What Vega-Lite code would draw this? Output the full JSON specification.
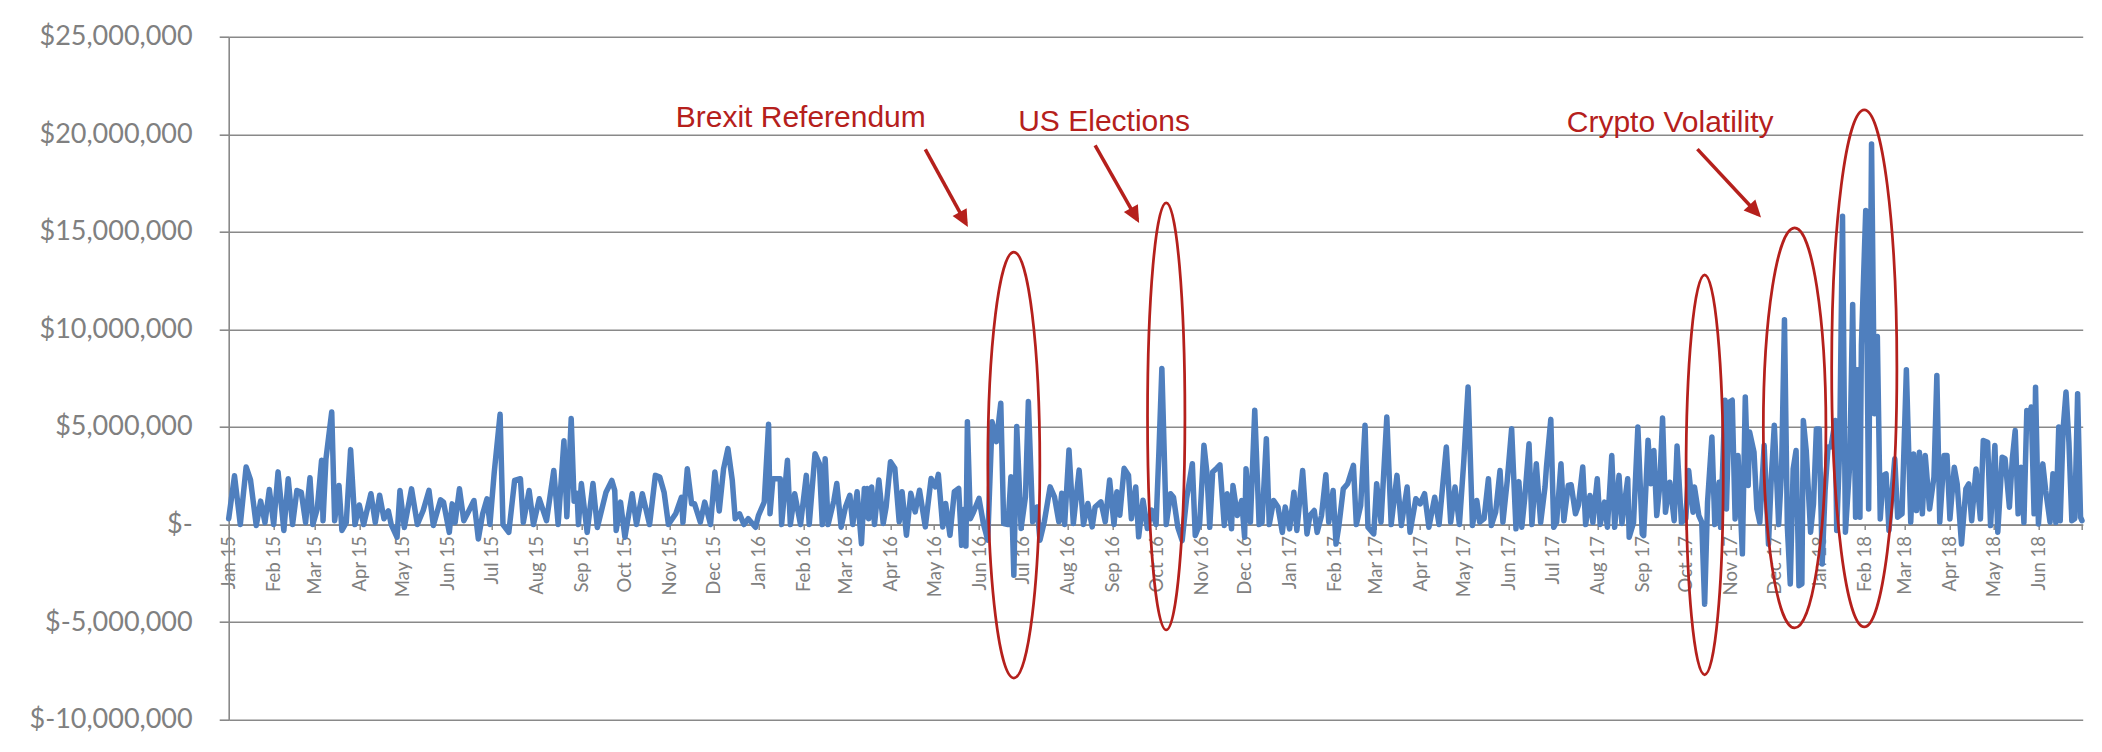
{
  "$schema": "https://vega.github.io/schema/vega-lite/v6.json",
  "width": 1854,
  "height": 683,
  "autosize": "none",
  "padding": {"left": 228.7, "top": 36.7, "right": 19.3, "bottom": 32.3},
  "background": "white",
  "config": {"view": {"stroke": null}},
  "datasets": {
    "flows": [
      {"d":"2015-01-01","v":300000},{"d":"2015-01-05","v":2500000},{"d":"2015-01-09","v":0},{"d":"2015-01-13","v":2950000},
      {"d":"2015-01-16","v":2300000},{"d":"2015-01-20","v":-50000},{"d":"2015-01-23","v":1200000},{"d":"2015-01-26","v":100000},
      {"d":"2015-01-29","v":1800000},{"d":"2015-02-01","v":0},{"d":"2015-02-04","v":2700000},{"d":"2015-02-08","v":-300000},
      {"d":"2015-02-11","v":2350000},{"d":"2015-02-14","v":0},{"d":"2015-02-17","v":1750000},{"d":"2015-02-20","v":1650000},
      {"d":"2015-02-23","v":100000},{"d":"2015-02-26","v":2400000},{"d":"2015-02-28","v":0},{"d":"2015-03-03","v":800000},
      {"d":"2015-03-06","v":3300000},{"d":"2015-03-07","v":200000},{"d":"2015-03-09","v":3350000},{"d":"2015-03-13","v":5770000},
      {"d":"2015-03-15","v":200000},{"d":"2015-03-18","v":2000000},{"d":"2015-03-20","v":-300000},{"d":"2015-03-23","v":100000},
      {"d":"2015-03-26","v":3840000},{"d":"2015-03-29","v":0},{"d":"2015-04-01","v":1000000},{"d":"2015-04-04","v":0},
      {"d":"2015-04-09","v":1580000},{"d":"2015-04-12","v":100000},{"d":"2015-04-15","v":1500000},{"d":"2015-04-18","v":300000},
      {"d":"2015-04-21","v":700000},{"d":"2015-04-23","v":0},{"d":"2015-04-27","v":-650000},{"d":"2015-04-29","v":1750000},
      {"d":"2015-05-02","v":-150000},{"d":"2015-05-07","v":1830000},{"d":"2015-05-11","v":0},{"d":"2015-05-15","v":720000},
      {"d":"2015-05-19","v":1750000},{"d":"2015-05-22","v":-50000},{"d":"2015-05-27","v":1270000},{"d":"2015-05-29","v":1150000},
      {"d":"2015-06-02","v":-400000},{"d":"2015-06-04","v":1060000},{"d":"2015-06-06","v":100000},{"d":"2015-06-09","v":1830000},
      {"d":"2015-06-12","v":200000},{"d":"2015-06-15","v":630000},{"d":"2015-06-19","v":1230000},{"d":"2015-06-22","v":-740000},
      {"d":"2015-06-25","v":550000},{"d":"2015-06-28","v":1320000},{"d":"2015-06-30","v":0},{"d":"2015-07-03","v":2700000},
      {"d":"2015-07-07","v":5650000},{"d":"2015-07-09","v":0},{"d":"2015-07-13","v":-400000},{"d":"2015-07-17","v":2260000},
      {"d":"2015-07-21","v":2350000},{"d":"2015-07-23","v":100000},{"d":"2015-07-27","v":1750000},{"d":"2015-07-30","v":0},
      {"d":"2015-08-03","v":1320000},{"d":"2015-08-06","v":650000},{"d":"2015-08-08","v":200000},{"d":"2015-08-13","v":2770000},
      {"d":"2015-08-16","v":0},{"d":"2015-08-20","v":4300000},{"d":"2015-08-22","v":400000},{"d":"2015-08-25","v":5430000},
      {"d":"2015-08-27","v":1200000},{"d":"2015-08-29","v":1600000},{"d":"2015-08-30","v":0},{"d":"2015-09-01","v":2100000},
      {"d":"2015-09-05","v":-400000},{"d":"2015-09-09","v":2100000},{"d":"2015-09-12","v":-150000},{"d":"2015-09-18","v":1660000},
      {"d":"2015-09-22","v":2260000},{"d":"2015-09-24","v":1750000},{"d":"2015-09-25","v":-300000},{"d":"2015-09-28","v":1150000},
      {"d":"2015-10-01","v":-650000},{"d":"2015-10-06","v":1580000},{"d":"2015-10-09","v":0},{"d":"2015-10-13","v":1580000},
      {"d":"2015-10-18","v":0},{"d":"2015-10-22","v":2520000},{"d":"2015-10-25","v":2430000},{"d":"2015-10-28","v":1660000},
      {"d":"2015-10-31","v":0},{"d":"2015-11-05","v":550000},{"d":"2015-11-09","v":1400000},{"d":"2015-11-10","v":100000},
      {"d":"2015-11-13","v":2860000},{"d":"2015-11-16","v":1060000},{"d":"2015-11-18","v":1060000},{"d":"2015-11-22","v":120000},
      {"d":"2015-11-25","v":1150000},{"d":"2015-11-29","v":0},{"d":"2015-12-02","v":2690000},{"d":"2015-12-05","v":700000},
      {"d":"2015-12-08","v":2860000},{"d":"2015-12-11","v":3890000},{"d":"2015-12-14","v":2260000},{"d":"2015-12-16","v":300000},
      {"d":"2015-12-19","v":550000},{"d":"2015-12-22","v":0},{"d":"2015-12-25","v":300000},{"d":"2015-12-30","v":-140000},
      {"d":"2016-01-01","v":460000},{"d":"2016-01-05","v":1150000},{"d":"2016-01-08","v":5140000},{"d":"2016-01-09","v":550000},
      {"d":"2016-01-11","v":2350000},{"d":"2016-01-16","v":2350000},{"d":"2016-01-17","v":0},{"d":"2016-01-21","v":3290000},
      {"d":"2016-01-23","v":0},{"d":"2016-01-26","v":1580000},{"d":"2016-01-30","v":0},{"d":"2016-02-03","v":2520000},
      {"d":"2016-02-05","v":0},{"d":"2016-02-09","v":3630000},{"d":"2016-02-12","v":3120000},{"d":"2016-02-14","v":0},
      {"d":"2016-02-16","v":3370000},{"d":"2016-02-18","v":0},{"d":"2016-02-22","v":1230000},{"d":"2016-02-24","v":2100000},
      {"d":"2016-02-27","v":-140000},{"d":"2016-03-01","v":900000},{"d":"2016-03-04","v":1500000},{"d":"2016-03-06","v":0},
      {"d":"2016-03-09","v":1680000},{"d":"2016-03-12","v":-980000},{"d":"2016-03-14","v":1850000},{"d":"2016-03-15","v":400000},
      {"d":"2016-03-16","v":1850000},{"d":"2016-03-17","v":300000},{"d":"2016-03-19","v":1930000},{"d":"2016-03-21","v":0},
      {"d":"2016-03-24","v":2280000},{"d":"2016-03-27","v":50000},{"d":"2016-03-29","v":900000},{"d":"2016-04-01","v":3220000},
      {"d":"2016-04-04","v":2880000},{"d":"2016-04-07","v":140000},{"d":"2016-04-09","v":1680000},{"d":"2016-04-12","v":-550000},
      {"d":"2016-04-15","v":1600000},{"d":"2016-04-18","v":650000},{"d":"2016-04-21","v":1760000},{"d":"2016-04-25","v":-120000},
      {"d":"2016-04-29","v":2360000},{"d":"2016-05-02","v":1930000},{"d":"2016-05-04","v":2570000},{"d":"2016-05-07","v":-120000},
      {"d":"2016-05-09","v":1080000},{"d":"2016-05-12","v":-550000},{"d":"2016-05-15","v":1680000},{"d":"2016-05-18","v":1850000},
      {"d":"2016-05-20","v":-1060000},{"d":"2016-05-22","v":800000},{"d":"2016-05-23","v":-1100000},{"d":"2016-05-24","v":5270000},
      {"d":"2016-05-26","v":300000},{"d":"2016-05-28","v":600000},{"d":"2016-06-01","v":1340000},{"d":"2016-06-04","v":50000},
      {"d":"2016-06-07","v":-800000},{"d":"2016-06-10","v":5270000},{"d":"2016-06-13","v":4250000},{"d":"2016-06-16","v":6220000},
      {"d":"2016-06-18","v":50000},{"d":"2016-06-21","v":0},{"d":"2016-06-23","v":2450000},{"d":"2016-06-25","v":-2600000},
      {"d":"2016-06-27","v":5020000},{"d":"2016-06-30","v":-200000},{"d":"2016-07-03","v":1420000},{"d":"2016-07-05","v":6300000},
      {"d":"2016-07-08","v":140000},{"d":"2016-07-11","v":900000},{"d":"2016-07-13","v":-800000},{"d":"2016-07-16","v":140000},
      {"d":"2016-07-20","v":1930000},{"d":"2016-07-23","v":1420000},{"d":"2016-07-26","v":140000},{"d":"2016-07-28","v":1600000},
      {"d":"2016-07-30","v":0},{"d":"2016-08-02","v":3820000},{"d":"2016-08-05","v":50000},{"d":"2016-08-09","v":2790000},
      {"d":"2016-08-12","v":0},{"d":"2016-08-15","v":1080000},{"d":"2016-08-18","v":-120000},{"d":"2016-08-20","v":900000},
      {"d":"2016-08-24","v":1160000},{"d":"2016-08-27","v":140000},{"d":"2016-08-30","v":2280000},{"d":"2016-09-02","v":0},
      {"d":"2016-09-04","v":1680000},{"d":"2016-09-06","v":480000},{"d":"2016-09-09","v":2880000},{"d":"2016-09-12","v":2530000},
      {"d":"2016-09-14","v":300000},{"d":"2016-09-17","v":1930000},{"d":"2016-09-19","v":-630000},{"d":"2016-09-22","v":1250000},
      {"d":"2016-09-25","v":-200000},{"d":"2016-09-28","v":740000},{"d":"2016-10-01","v":0},{"d":"2016-10-03","v":3800000},
      {"d":"2016-10-05","v":8000000},{"d":"2016-10-08","v":0},{"d":"2016-10-11","v":1580000},{"d":"2016-10-13","v":1400000},
      {"d":"2016-10-16","v":-140000},{"d":"2016-10-19","v":-820000},{"d":"2016-10-22","v":1320000},{"d":"2016-10-26","v":3120000},
      {"d":"2016-10-28","v":-560000},{"d":"2016-10-31","v":0},{"d":"2016-11-03","v":4060000},{"d":"2016-11-05","v":2690000},
      {"d":"2016-11-07","v":-140000},{"d":"2016-11-09","v":2690000},{"d":"2016-11-12","v":2900000},{"d":"2016-11-14","v":3060000},
      {"d":"2016-11-17","v":-50000},{"d":"2016-11-19","v":1580000},{"d":"2016-11-22","v":-220000},{"d":"2016-11-23","v":2000000},
      {"d":"2016-11-26","v":460000},{"d":"2016-11-29","v":1230000},{"d":"2016-12-01","v":-650000},{"d":"2016-12-02","v":2860000},
      {"d":"2016-12-05","v":120000},{"d":"2016-12-08","v":5860000},{"d":"2016-12-11","v":0},{"d":"2016-12-13","v":100000},
      {"d":"2016-12-16","v":4400000},{"d":"2016-12-18","v":0},{"d":"2016-12-21","v":1230000},{"d":"2016-12-24","v":900000},
      {"d":"2016-12-27","v":-400000},{"d":"2016-12-29","v":900000},{"d":"2017-01-01","v":-220000},{"d":"2017-01-04","v":1660000},
      {"d":"2017-01-06","v":-300000},{"d":"2017-01-10","v":2770000},{"d":"2017-01-13","v":-480000},{"d":"2017-01-15","v":460000},
      {"d":"2017-01-18","v":720000},{"d":"2017-01-20","v":-400000},{"d":"2017-01-23","v":460000},{"d":"2017-01-26","v":2550000},
      {"d":"2017-01-28","v":120000},{"d":"2017-01-31","v":1750000},{"d":"2017-02-02","v":-1000000},{"d":"2017-02-04","v":-50000},
      {"d":"2017-02-07","v":1830000},{"d":"2017-02-10","v":2090000},{"d":"2017-02-14","v":3030000},{"d":"2017-02-16","v":0},
      {"d":"2017-02-19","v":980000},{"d":"2017-02-22","v":5090000},{"d":"2017-02-24","v":-140000},{"d":"2017-02-28","v":-480000},
      {"d":"2017-03-02","v":2090000},{"d":"2017-03-05","v":120000},{"d":"2017-03-09","v":5510000},{"d":"2017-03-12","v":0},
      {"d":"2017-03-16","v":2520000},{"d":"2017-03-19","v":-50000},{"d":"2017-03-23","v":1920000},{"d":"2017-03-25","v":-400000},
      {"d":"2017-03-29","v":1320000},{"d":"2017-04-01","v":1060000},{"d":"2017-04-04","v":1580000},{"d":"2017-04-07","v":-140000},
      {"d":"2017-04-11","v":1400000},{"d":"2017-04-14","v":0},{"d":"2017-04-19","v":3970000},{"d":"2017-04-22","v":120000},
      {"d":"2017-04-25","v":1920000},{"d":"2017-04-28","v":0},{"d":"2017-05-01","v":3200000},{"d":"2017-05-04","v":7050000},
      {"d":"2017-05-07","v":-50000},{"d":"2017-05-10","v":1230000},{"d":"2017-05-12","v":120000},{"d":"2017-05-15","v":300000},
      {"d":"2017-05-18","v":2350000},{"d":"2017-05-20","v":-50000},{"d":"2017-05-23","v":630000},{"d":"2017-05-26","v":2770000},
      {"d":"2017-05-28","v":120000},{"d":"2017-05-31","v":2260000},{"d":"2017-06-03","v":4910000},{"d":"2017-06-06","v":-220000},
      {"d":"2017-06-08","v":2200000},{"d":"2017-06-10","v":-140000},{"d":"2017-06-12","v":1320000},{"d":"2017-06-15","v":4140000},
      {"d":"2017-06-17","v":0},{"d":"2017-06-20","v":3120000},{"d":"2017-06-23","v":100000},{"d":"2017-06-26","v":1920000},
      {"d":"2017-06-27","v":2950000},{"d":"2017-06-30","v":5390000},{"d":"2017-07-02","v":-140000},{"d":"2017-07-04","v":120000},
      {"d":"2017-07-07","v":3120000},{"d":"2017-07-09","v":200000},{"d":"2017-07-12","v":2000000},{"d":"2017-07-14","v":2040000},
      {"d":"2017-07-17","v":550000},{"d":"2017-07-19","v":980000},{"d":"2017-07-22","v":2950000},{"d":"2017-07-24","v":0},
      {"d":"2017-07-27","v":1490000},{"d":"2017-07-29","v":100000},{"d":"2017-08-01","v":2350000},{"d":"2017-08-03","v":0},
      {"d":"2017-08-06","v":1150000},{"d":"2017-08-08","v":-140000},{"d":"2017-08-11","v":3540000},{"d":"2017-08-13","v":-140000},
      {"d":"2017-08-16","v":2520000},{"d":"2017-08-18","v":50000},{"d":"2017-08-22","v":2350000},{"d":"2017-08-23","v":-650000},
      {"d":"2017-08-26","v":100000},{"d":"2017-08-29","v":5000000},{"d":"2017-09-01","v":-480000},{"d":"2017-09-02","v":-570000},
      {"d":"2017-09-05","v":4320000},{"d":"2017-09-07","v":2090000},{"d":"2017-09-09","v":3800000},{"d":"2017-09-11","v":460000},
      {"d":"2017-09-13","v":1920000},{"d":"2017-09-15","v":5460000},{"d":"2017-09-17","v":630000},{"d":"2017-09-20","v":2170000},
      {"d":"2017-09-23","v":200000},{"d":"2017-09-25","v":4020000},{"d":"2017-09-28","v":100000},{"d":"2017-10-01","v":300000},
      {"d":"2017-10-03","v":2770000},{"d":"2017-10-06","v":630000},{"d":"2017-10-07","v":1920000},{"d":"2017-10-10","v":460000},
      {"d":"2017-10-12","v":120000},{"d":"2017-10-14","v":-4080000},{"d":"2017-10-16","v":1150000},{"d":"2017-10-19","v":4490000},
      {"d":"2017-10-21","v":0},{"d":"2017-10-24","v":2170000},{"d":"2017-10-25","v":-140000},{"d":"2017-10-28","v":6370000},
      {"d":"2017-10-29","v":800000},{"d":"2017-10-31","v":6280000},{"d":"2017-11-02","v":6370000},{"d":"2017-11-04","v":290000},
      {"d":"2017-11-06","v":3540000},{"d":"2017-11-09","v":-1500000},{"d":"2017-11-11","v":6540000},{"d":"2017-11-13","v":2000000},
      {"d":"2017-11-14","v":4740000},{"d":"2017-11-17","v":3720000},{"d":"2017-11-19","v":800000},{"d":"2017-11-21","v":100000},
      {"d":"2017-11-24","v":4060000},{"d":"2017-11-27","v":-1000000},{"d":"2017-11-29","v":2520000},{"d":"2017-12-01","v":5090000},
      {"d":"2017-12-04","v":0},{"d":"2017-12-06","v":2770000},{"d":"2017-12-08","v":10500000},{"d":"2017-12-10","v":-140000},
      {"d":"2017-12-12","v":-3040000},{"d":"2017-12-14","v":2850000},{"d":"2017-12-16","v":3800000},{"d":"2017-12-18","v":-3130000},
      {"d":"2017-12-20","v":-3040000},{"d":"2017-12-21","v":5330000},{"d":"2017-12-23","v":3800000},{"d":"2017-12-26","v":-390000},
      {"d":"2017-12-28","v":1060000},{"d":"2017-12-30","v":4900000},{"d":"2018-01-01","v":4900000},{"d":"2018-01-03","v":-2020000},
      {"d":"2018-01-05","v":1740000},{"d":"2018-01-07","v":3970000},{"d":"2018-01-09","v":3970000},{"d":"2018-01-12","v":5330000},
      {"d":"2018-01-13","v":-300000},{"d":"2018-01-15","v":3800000},{"d":"2018-01-17","v":15800000},{"d":"2018-01-19","v":-390000},
      {"d":"2018-01-22","v":3110000},{"d":"2018-01-24","v":11280000},{"d":"2018-01-26","v":380000},{"d":"2018-01-27","v":7930000},
      {"d":"2018-01-29","v":380000},{"d":"2018-01-30","v":9180000},{"d":"2018-02-02","v":16100000},{"d":"2018-02-04","v":800000},
      {"d":"2018-02-06","v":19500000},{"d":"2018-02-08","v":5680000},{"d":"2018-02-10","v":9640000},{"d":"2018-02-12","v":290000},
      {"d":"2018-02-14","v":2510000},{"d":"2018-02-16","v":2600000},{"d":"2018-02-18","v":-300000},{"d":"2018-02-22","v":3370000},
      {"d":"2018-02-24","v":380000},{"d":"2018-02-27","v":550000},{"d":"2018-03-02","v":7930000},{"d":"2018-03-05","v":120000},
      {"d":"2018-03-07","v":3620000},{"d":"2018-03-09","v":720000},{"d":"2018-03-11","v":3710000},{"d":"2018-03-13","v":550000},
      {"d":"2018-03-15","v":3540000},{"d":"2018-03-18","v":800000},{"d":"2018-03-21","v":2430000},{"d":"2018-03-23","v":7640000},
      {"d":"2018-03-25","v":120000},{"d":"2018-03-28","v":3540000},{"d":"2018-03-30","v":3540000},{"d":"2018-04-01","v":290000},
      {"d":"2018-04-04","v":2940000},{"d":"2018-04-06","v":2090000},{"d":"2018-04-09","v":-1000000},{"d":"2018-04-12","v":1830000},
      {"d":"2018-04-14","v":2090000},{"d":"2018-04-16","v":200000},{"d":"2018-04-19","v":2850000},{"d":"2018-04-22","v":290000},
      {"d":"2018-04-24","v":4310000},{"d":"2018-04-27","v":4220000},{"d":"2018-04-29","v":-50000},{"d":"2018-05-02","v":4050000},
      {"d":"2018-05-04","v":-390000},{"d":"2018-05-07","v":3450000},{"d":"2018-05-09","v":3370000},{"d":"2018-05-12","v":890000},
      {"d":"2018-05-14","v":3370000},{"d":"2018-05-16","v":4820000},{"d":"2018-05-18","v":550000},{"d":"2018-05-20","v":2940000},
      {"d":"2018-05-22","v":100000},{"d":"2018-05-24","v":5850000},{"d":"2018-05-25","v":5000000},{"d":"2018-05-27","v":6020000},
      {"d":"2018-05-29","v":550000},{"d":"2018-05-30","v":7040000},{"d":"2018-06-01","v":30000},{"d":"2018-06-04","v":3110000},
      {"d":"2018-06-06","v":1740000},{"d":"2018-06-09","v":120000},{"d":"2018-06-11","v":2600000},{"d":"2018-06-13","v":100000},
      {"d":"2018-06-15","v":5000000},{"d":"2018-06-16","v":200000},{"d":"2018-06-18","v":4900000},{"d":"2018-06-20","v":6790000},
      {"d":"2018-06-22","v":4220000},{"d":"2018-06-24","v":200000},{"d":"2018-06-26","v":300000},{"d":"2018-06-28","v":6700000},
      {"d":"2018-06-30","v":380000},{"d":"2018-07-01","v":200000}
    ],
    "notes": [
      {"label": "Brexit Referendum", "d": "2015-11-05", "v": 20370000},
      {"label": "US Elections", "d": "2016-06-28", "v": 20180000},
      {"label": "Crypto Volatility", "d": "2017-07-11", "v": 20130000}
    ],
    "arrows": [
      {"name": "brexit", "d": "2016-04-25", "v": 19230000, "d2": "2016-05-23", "v2": 15430000},
      {"name": "us", "d": "2016-08-20", "v": 19430000, "d2": "2016-09-18", "v2": 15630000},
      {"name": "crypto", "d": "2017-10-09", "v": 19240000, "d2": "2017-11-20", "v2": 15890000}
    ],
    "rings": [
      {"name": "brexit", "d": "2016-06-25", "v": 3050000},
      {"name": "us", "d": "2016-10-08", "v": 5540000},
      {"name": "oct", "d": "2017-10-14", "v": 2550000},
      {"name": "dec", "d": "2017-12-15", "v": 4950000},
      {"name": "feb", "d": "2018-02-01", "v": 8000000}
    ]
  },
  "layer": [
    {
      "data": {"name": "flows"},
      "mark": {"type": "line", "color": "#4F7FBE", "strokeWidth": 5.5, "strokeJoin": "round", "strokeCap": "round"},
      "encoding": {
        "x": {
          "field": "d", "type": "temporal", "title": null,
          "scale": {
            "type": "utc",
            "domain": [
              {"year": 2015, "month": 1, "date": 1, "utc": true},
              {"year": 2018, "month": 7, "date": 1, "hours": 12, "utc": true}
            ]
          },
          "axis": {
            "title": null,
            "tickCount": {"interval": "month", "step": 1},
            "labelExpr": "utcyear(datum.value) == 2018 && utcmonth(datum.value) == 6 ? '' : utcFormat(datum.value, '%b %y')",
            "labelAngle": -90,
            "labelFont": "Lato",
            "labelFontSize": 18.5,
            "labelColor": "#808080",
            "labelPadding": 6,
            "labelOverlap": false,
            "labelFlush": false,
            "labelBound": false,
            "tickSize": 5,
            "tickColor": "#898989",
            "tickWidth": 1.5,
            "domainColor": "#898989",
            "domainWidth": 1.6,
            "grid": false,
            "offset": -195.14
          }
        },
        "y": {
          "field": "v", "type": "quantitative", "title": null,
          "scale": {"domain": [-10000000, 25000000], "nice": false, "zero": false},
          "axis": {
            "title": null,
            "values": [-10000000, -5000000, 0, 5000000, 10000000, 15000000, 20000000, 25000000],
            "labelExpr": "datum.value == 0 ? '$-' : (datum.value < 0 ? '$-' + format(-datum.value, ',') : '$' + format(datum.value, ','))",
            "labelFont": "Lato",
            "labelFontSize": 27,
            "labelColor": "#808080",
            "labelPadding": 27,
            "labelOverlap": false,
            "labelFlush": false,
            "labelBaseline": "middle",
            "tickSize": 9.5,
            "tickColor": "#898989",
            "tickWidth": 1.6,
            "domainColor": "#898989",
            "domainWidth": 1.6,
            "grid": true,
            "gridColor": "#898989",
            "gridWidth": 1.6
          }
        }
      }
    },
    {
      "data": {"name": "rings"},
      "mark": {"type": "point", "filled": false, "size": 4, "stroke": "#B5201C", "strokeWidth": 2.75, "opacity": 1},
      "encoding": {
        "x": {"field": "d", "type": "temporal", "title": null},
        "y": {"field": "v", "type": "quantitative", "title": null},
        "shape": {
          "field": "name", "type": "nominal", "legend": null,
          "scale": {
            "domain": ["brexit", "us", "oct", "dec", "feb"],
            "range": [
              "M0,-213A26,213 0 1 1 0,213A26,213 0 1 1 0,-213Z",
              "M0,-213.5A18.7,213.5 0 1 1 0,213.5A18.7,213.5 0 1 1 0,-213.5Z",
              "M0,-200A18.6,200 0 1 1 0,200A18.6,200 0 1 1 0,-200Z",
              "M0,-200A31.3,200 0 1 1 0,200A31.3,200 0 1 1 0,-200Z",
              "M0,-258.5A32.6,258.5 0 1 1 0,258.5A32.6,258.5 0 1 1 0,-258.5Z"
            ]
          }
        }
      }
    },
    {
      "data": {"name": "arrows"},
      "mark": {"type": "rule", "color": "#B5201C", "strokeWidth": 3.5},
      "encoding": {
        "x": {"field": "d", "type": "temporal", "title": null},
        "y": {"field": "v", "type": "quantitative", "title": null},
        "x2": {"field": "d2"},
        "y2": {"field": "v2"}
      }
    },
    {
      "data": {"name": "arrows"},
      "transform": [{"filter": "datum.name != 'crypto'"}],
      "mark": {"type": "point", "shape": "M0,-4L8,13L-8,13Z", "size": 4, "filled": true, "color": "#B5201C", "opacity": 1, "angle": 151},
      "encoding": {
        "x": {"field": "d2", "type": "temporal", "title": null},
        "y": {"field": "v2", "type": "quantitative", "title": null}
      }
    },
    {
      "data": {"name": "arrows"},
      "transform": [{"filter": "datum.name == 'crypto'"}],
      "mark": {"type": "point", "shape": "M0,-4L8,13L-8,13Z", "size": 4, "filled": true, "color": "#B5201C", "opacity": 1, "angle": 137},
      "encoding": {
        "x": {"field": "d2", "type": "temporal", "title": null},
        "y": {"field": "v2", "type": "quantitative", "title": null}
      }
    },
    {
      "data": {"name": "notes"},
      "mark": {"type": "text", "align": "left", "baseline": "alphabetic", "font": "Liberation Sans", "fontSize": 30, "color": "#B5201C"},
      "encoding": {
        "x": {"field": "d", "type": "temporal", "title": null},
        "y": {"field": "v", "type": "quantitative", "title": null},
        "text": {"field": "label"}
      }
    }
  ]
}
